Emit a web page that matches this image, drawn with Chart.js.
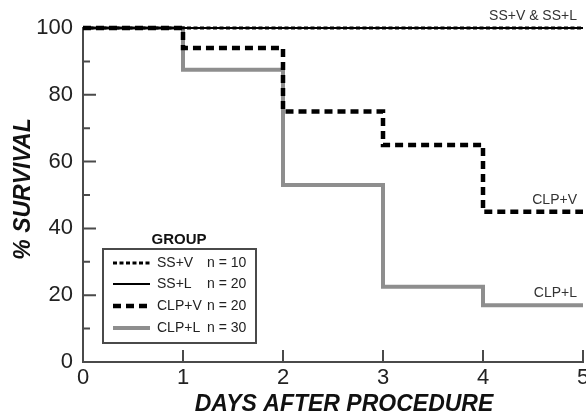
<!DOCTYPE html>
<html>
<head>
<meta charset="utf-8">
<script src="https://cdn.jsdelivr.net/npm/chart.js@4"></script>
<style>
html, body { margin: 0; padding: 0; background: #fff; }
</style>
</head>
<body>
<canvas id="km" width="586" height="418"></canvas>
<script>
// Kaplan-Meier style survival curves

const DAYS_SS = [0, 5];
const SURV_SSV = [100, 100];
const SURV_SSL = [100, 100];
const DAYS_CLP = [0, 1, 2, 3, 4, 5];
const SURV_CLPV = [100, 94, 75, 65, 45, 45];
const SURV_CLPL = [100, 87.5, 53, 22.5, 17, 17];

const GROUPS = ['SS+V', 'SS+L', 'CLP+V', 'CLP+L'];
const N_COUNTS = [10, 20, 20, 30];

const Y_MINOR = [10, 30, 50, 70, 90];
const Y_MAJOR = [20, 40, 60, 80];
const X_TICKS = [1, 2, 3, 4, 5];

const END_LABELS = ['SS+V & SS+L', 'CLP+V', 'CLP+L'];
const END_VALUES = [100, 45, 17];
const END_DAY = 5;

const X_TITLE = 'DAYS AFTER PROCEDURE';
const Y_TITLE = '% SURVIVAL';

const FONT = "'Liberation Sans', Arial, sans-serif";
const AXIS_COLOR = '#4a4a4a';

function toPoints(xs, ys) {
    return xs.map((x, i) => ({ x: x, y: ys[i] }));
}

const datasets = [
    { label: GROUPS[0], data: toPoints(DAYS_SS, SURV_SSV), borderColor: '#000', borderWidth: 3, borderDash: [4, 2.5] },
    { label: GROUPS[1], data: toPoints(DAYS_SS, SURV_SSL), borderColor: '#000', borderWidth: 2 },
    { label: GROUPS[2], data: toPoints(DAYS_CLP, SURV_CLPV), borderColor: '#000', borderWidth: 4.5, borderDash: [8, 5] },
    { label: GROUPS[3], data: toPoints(DAYS_CLP, SURV_CLPL), borderColor: '#8e8e8e', borderWidth: 4 }
];
datasets.forEach(d => {
    d.stepped = true;
    d.pointRadius = 0;
    d.fill = false;
    d.clip = false;
    d.borderCapStyle = 'butt';
});

// ticks pointing into the plot, minor ones shorter
const inwardTicks = {
    id: 'inwardTicks',
    afterDraw(chart) {
        const ctx = chart.ctx;
        const xs = chart.scales.x, ys = chart.scales.y;
        const left = chart.chartArea.left, bottom = chart.chartArea.bottom;
        ctx.save();
        ctx.strokeStyle = AXIS_COLOR;
        ctx.lineWidth = 2;
        ctx.beginPath();
        Y_MAJOR.forEach(v => {
            const py = ys.getPixelForValue(v);
            ctx.moveTo(left, py); ctx.lineTo(left + 13, py);
        });
        Y_MINOR.forEach(v => {
            const py = ys.getPixelForValue(v);
            ctx.moveTo(left, py); ctx.lineTo(left + 7, py);
        });
        X_TICKS.forEach(v => {
            const px = xs.getPixelForValue(v);
            ctx.moveTo(px, bottom); ctx.lineTo(px, bottom - 12);
        });
        ctx.stroke();
        ctx.restore();
    }
};

// axis titles (the originals sit a little off the scale centres)
const axisTitles = {
    id: 'axisTitles',
    afterDraw(chart) {
        const ctx = chart.ctx;
        ctx.save();
        ctx.fillStyle = '#111';
        ctx.font = 'italic bold 23px ' + FONT;
        ctx.textAlign = 'center';
        ctx.textBaseline = 'middle';
        ctx.fillText(X_TITLE, 344, 405);
        ctx.translate(24, 189);
        ctx.rotate(-Math.PI / 2);
        ctx.fillText(Y_TITLE, 0, 0);
        ctx.restore();
    }
};

// group labels at the right end of the curves
const endLabels = {
    id: 'endLabels',
    afterDatasetsDraw(chart) {
        const ctx = chart.ctx;
        const xs = chart.scales.x, ys = chart.scales.y;
        ctx.save();
        ctx.font = '14px ' + FONT;
        ctx.fillStyle = '#333';
        ctx.textAlign = 'right';
        ctx.textBaseline = 'middle';
        END_LABELS.forEach((t, i) => {
            ctx.fillText(t, xs.getPixelForValue(END_DAY) - 6, ys.getPixelForValue(END_VALUES[i]) - 12);
        });
        ctx.restore();
    }
};

// boxed legend in the lower left
const groupLegend = {
    id: 'groupLegend',
    afterDraw(chart) {
        const ctx = chart.ctx;
        const bx = 103, by = 249, bw = 153, bh = 94;
        ctx.save();
        ctx.fillStyle = '#fff';
        ctx.fillRect(bx, by, bw, bh);
        ctx.strokeStyle = AXIS_COLOR;
        ctx.lineWidth = 2;
        ctx.strokeRect(bx, by, bw, bh);

        ctx.fillStyle = '#111';
        ctx.font = 'bold 15px ' + FONT;
        ctx.textAlign = 'center';
        ctx.textBaseline = 'middle';
        ctx.fillText('GROUP', 179, 240);

        const rows = [263, 284, 306, 328];
        ctx.font = '14px ' + FONT;
        ctx.textAlign = 'left';
        chart.data.datasets.forEach((d, i) => {
            const y = rows[i];
            ctx.beginPath();
            ctx.strokeStyle = d.borderColor;
            ctx.lineWidth = d.borderWidth;
            ctx.setLineDash(d.borderDash || []);
            ctx.moveTo(113, y);
            ctx.lineTo(150, y);
            ctx.stroke();
            ctx.setLineDash([]);
            ctx.fillStyle = '#222';
            ctx.fillText(d.label, 157, y);
            ctx.fillText('n = ' + N_COUNTS[i], 207, y);
        });
        ctx.restore();
    }
};

new Chart(document.getElementById('km'), {
    type: 'line',
    data: { datasets: datasets },
    options: {
        responsive: false,
        animation: false,
        devicePixelRatio: 1,
        layout: { padding: { top: 28, right: 3, left: 0, bottom: 0 } },
        plugins: { legend: { display: false }, tooltip: { enabled: false } },
        scales: {
            x: {
                type: 'linear',
                min: 0, max: 5,
                ticks: { stepSize: 1, padding: 3, color: '#222', font: { family: FONT, size: 22 } },
                grid: { drawOnChartArea: false, drawTicks: false },
                border: { display: true, color: AXIS_COLOR, width: 2 },
                afterFit(scale) {
                    scale.height = 56;
                    scale.paddingLeft = 0;
                    scale.paddingRight = 0;
                }
            },
            y: {
                min: 0, max: 100,
                ticks: { stepSize: 20, padding: 10, color: '#222', font: { family: FONT, size: 22 } },
                grid: { drawOnChartArea: false, drawTicks: false },
                border: { display: true, color: AXIS_COLOR, width: 2 },
                afterFit(scale) {
                    scale.width = 83;
                    scale.paddingTop = 0;
                    scale.paddingBottom = 0;
                }
            }
        }
    },
    plugins: [inwardTicks, endLabels, groupLegend, axisTitles]
});
</script>
</body>
</html>
